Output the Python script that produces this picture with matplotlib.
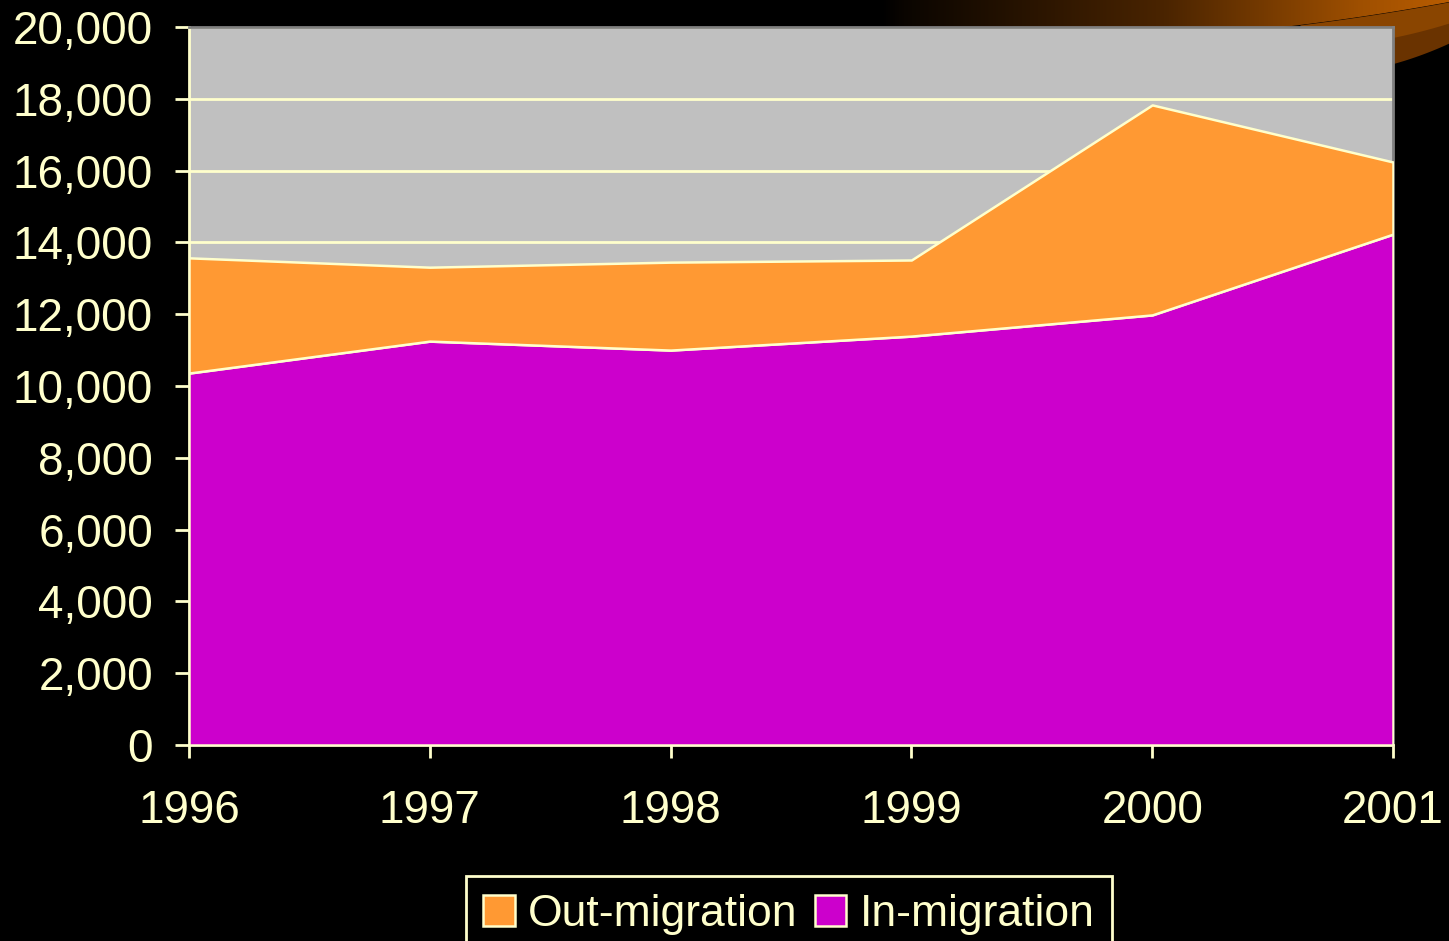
import numpy as np
import matplotlib
matplotlib.use("Agg")
from matplotlib import pyplot as plt
from matplotlib.path import Path
from matplotlib.patches import PathPatch

# data
years = [1996, 1997, 1998, 1999, 2000, 2001]
in_migration = [10360, 11250, 11000, 11390, 11980, 14230]
out_migration = [3210, 2060, 2450, 2120, 5850, 2010]
year_labels = ['1996', '1997', '1998', '1999', '2000', '2001']

cream = '#FFFFCC'
plt.rcParams['font.family'] = ['Liberation Sans', 'DejaVu Sans']

fig = plt.figure(figsize=(14.49, 9.41), dpi=100, facecolor='black')

# decorative swoosh in the top right corner (pixel coords)
bg = fig.add_axes([0, 0, 1, 1], zorder=-1)
bg.set_xlim(0, 1449)
bg.set_ylim(941, 0)
bg.axis('off')


def curve(pts, xs):
    px, py = zip(*pts)
    return np.polyval(np.polyfit(px, py, 2), xs)


xs = np.linspace(880, 1449, 80)
edge_a = np.maximum(curve([(880, 40), (1300, 25), (1449, 2)], xs), 0)
xr = np.linspace(1300, 1449, 40)
edge_b = curve([(1300, 48), (1395, 37), (1449, 23)], xr)
edge_c = curve([(1300, 75), (1395, 63), (1449, 43)], xr)

bg.fill_between(xr, curve([(880, 40), (1300, 25), (1449, 2)], xr), edge_c, color='#6a3300', lw=0)
bg.fill_between(xr, curve([(880, 40), (1300, 25), (1449, 2)], xr), edge_b, color='#8a4500', lw=0)

verts = [(880, 0), (1449, 0)] + list(zip(xs[::-1], edge_a[::-1])) + [(880, 0)]
clip = PathPatch(Path(verts), transform=bg.transData, facecolor='none', edgecolor='none')
bg.add_patch(clip)
cmap = matplotlib.colors.LinearSegmentedColormap.from_list(
    'sw', [(0, '#000000'), (0.04, '#0a0500'), (0.5, '#4a2400'), (0.85, '#a05000'), (1, '#b85c00')])
grad = np.linspace(0, 1, 256).reshape(1, -1)
im = bg.imshow(grad, extent=[880, 1449, 60, 0], cmap=cmap, aspect='auto')
im.set_clip_path(clip)

ax = fig.add_axes([189 / 1449, 1 - 745 / 941, 1204 / 1449, 718 / 941])
ax.set_facecolor('#C0C0C0')

ax.stackplot(years, in_migration, out_migration,
             colors=['#CC00CC', '#FF9933'],
             labels=['In-migration', 'Out-migration'],
             edgecolor=cream, linewidth=1.8, zorder=3)

ax.set_xlim(1996, 2001)
ax.set_ylim(0, 20000)
ax.set_yticks(np.arange(0, 20001, 2000))
ax.set_yticklabels([f'{v:,}' for v in range(0, 20001, 2000)])
ax.set_xticks(years)
ax.set_xticklabels(year_labels)
ax.grid(axis='y', color=cream, linewidth=2, zorder=1)
ax.set_axisbelow(True)

for side in ['left', 'bottom']:
    ax.spines[side].set_color(cream)
    ax.spines[side].set_linewidth(2)
for side in ['top', 'right']:
    ax.spines[side].set_color('#808080')
    ax.spines[side].set_linewidth(2)

ax.tick_params(axis='y', colors=cream, labelsize=33, length=10, width=2, pad=16, direction='out')
ax.tick_params(axis='x', colors=cream, labelsize=33, length=9, width=2, pad=23, direction='out')

h, l = ax.get_legend_handles_labels()
leg = fig.legend(h[::-1], l[::-1], loc='upper center', ncol=2,
                 bbox_to_anchor=(789 / 1449, 1 - 876 / 941), borderaxespad=0,
                 fontsize=32, frameon=True, fancybox=False,
                 facecolor='black', edgecolor=cream, labelcolor=cream,
                 handlelength=0.7, handleheight=0.7, handletextpad=0.3,
                 columnspacing=0.4, borderpad=0.4, framealpha=1)
leg.get_frame().set_linewidth(2)

fig.savefig('out.png', dpi=100, facecolor='black')
